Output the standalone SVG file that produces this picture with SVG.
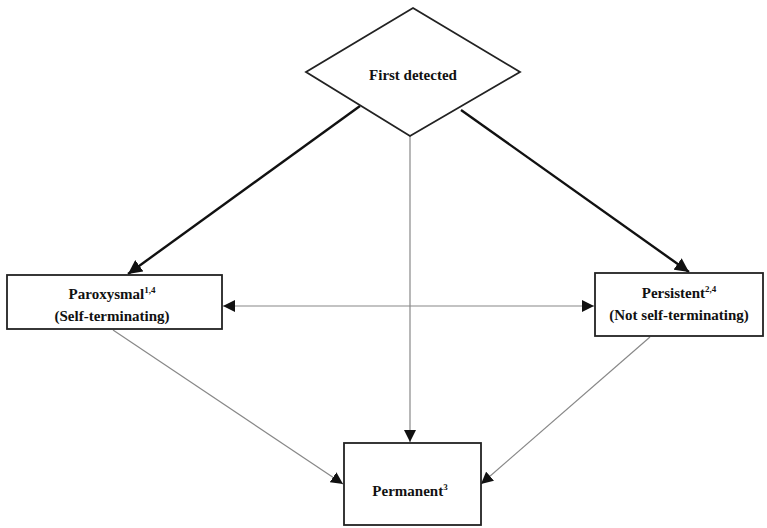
<svg xmlns="http://www.w3.org/2000/svg" width="767" height="528" viewBox="0 0 767 528">
<style>
.box{fill:#fff;stroke:#222;stroke-width:1.8}
.t{font-family:"Liberation Serif",serif;font-weight:bold;font-size:15px;fill:#111;text-anchor:middle}
.sup{font-size:9px}
.thick{stroke:#111;stroke-width:2.4;fill:none}
.thin{stroke:#888;stroke-width:1.2;fill:none}
</style>
<defs>
<marker id="ah" viewBox="0 0 10 10" refX="10" refY="5" markerWidth="12" markerHeight="12" markerUnits="userSpaceOnUse" orient="auto-start-reverse"><path d="M0,0 L10,5 L0,10 z" fill="#111"/></marker>
<marker id="ahb" viewBox="0 0 10 10" refX="10" refY="5" markerWidth="14" markerHeight="14" markerUnits="userSpaceOnUse" orient="auto"><path d="M0,0 L10,5 L0,10 z" fill="#111"/></marker>
</defs>
<g id="connectors">
<line class="thick" x1="360" y1="106" x2="128" y2="274" marker-end="url(#ahb)"/>
<line class="thick" x1="461" y1="110" x2="689" y2="272" marker-end="url(#ahb)"/>
<line class="thin" x1="410" y1="136" x2="410" y2="442" marker-end="url(#ah)"/>
<line class="thin" x1="223" y1="306" x2="594" y2="306" marker-start="url(#ah)" marker-end="url(#ah)"/>
<line class="thin" x1="113" y1="330" x2="343" y2="484" marker-end="url(#ah)"/>
<line class="thin" x1="650" y1="337" x2="481" y2="484" marker-end="url(#ah)"/>
</g>
<g id="first-detected">
<polygon class="box" points="413,8 520,72 410,136 306,72"/>
<text class="t" x="413" y="80">First detected</text>
</g>
<g id="paroxysmal">
<rect class="box" x="7" y="275" width="215" height="54"/>
<text class="t" x="112" y="299">Paroxysmal<tspan class="sup" dy="-6">1,4</tspan></text>
<text class="t" x="112" y="321">(Self-terminating)</text>
</g>
<g id="persistent">
<rect class="box" x="595" y="273" width="168" height="63"/>
<text class="t" x="679" y="298">Persistent<tspan class="sup" dy="-6">2,4</tspan></text>
<text class="t" x="679" y="320">(Not self-terminating)</text>
</g>
<g id="permanent">
<rect class="box" x="344" y="443" width="137" height="82"/>
<text class="t" x="410" y="496">Permanent<tspan class="sup" dy="-6">3</tspan></text>
</g>
</svg>
